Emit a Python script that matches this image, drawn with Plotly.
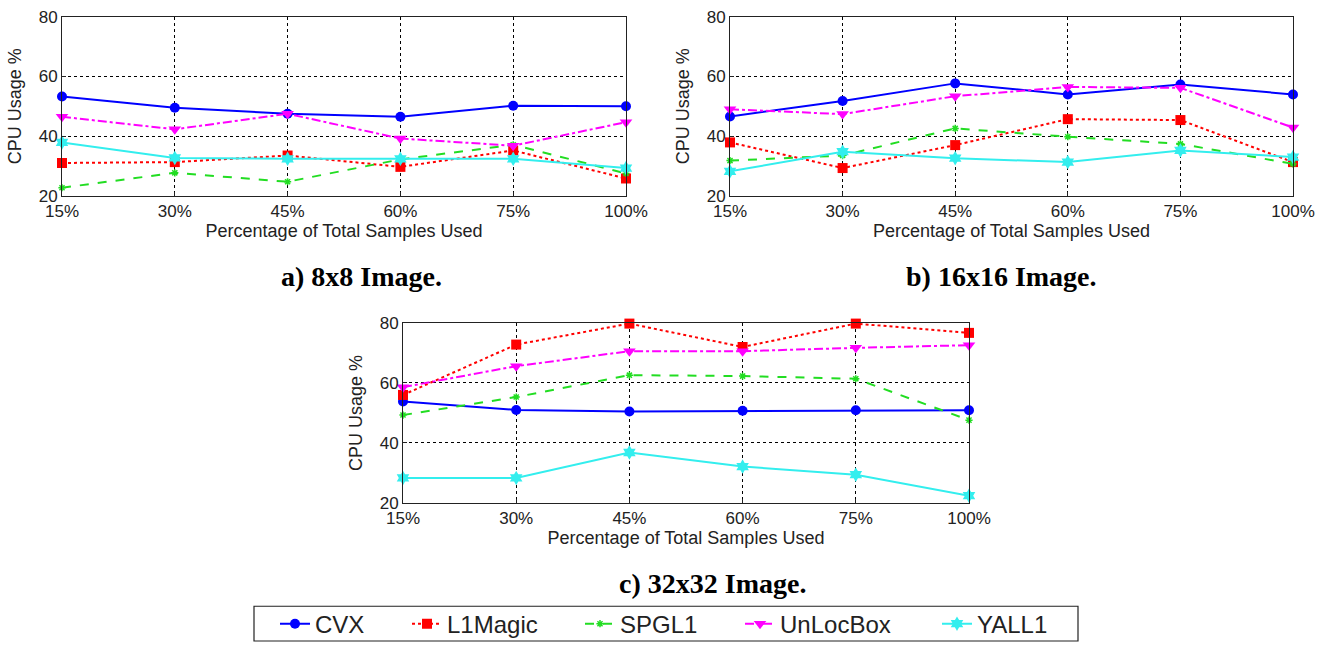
import plotly.graph_objects as go

x_labels = ["15%", "30%", "45%", "60%", "75%", "100%"]
x_pos = [0, 1, 2, 3, 4, 5]
series_names = ["CVX", "L1Magic", "SPGL1", "UnLocBox", "YALL1"]

# a) 8x8 image
a_cvx = [53.3, 49.5, 47.5, 46.5, 50.2, 50.0]
a_l1m = [31.0, 31.3, 33.5, 29.7, 35.2, 25.8]
a_spgl1 = [22.7, 27.7, 24.7, 32.2, 37.1, 27.5]
a_unloc = [46.5, 42.3, 47.5, 39.2, 36.8, 44.7]
a_yall1 = [37.9, 32.7, 32.4, 32.4, 32.4, 29.3]

# b) 16x16 image
b_cvx = [46.6, 51.8, 57.7, 54.0, 57.3, 54.0]
b_l1m = [37.9, 29.3, 37.0, 45.7, 45.4, 31.3]
b_spgl1 = [31.8, 33.5, 42.6, 39.8, 37.4, 30.7]
b_unloc = [49.0, 47.4, 53.4, 56.5, 56.2, 42.9]
b_yall1 = [28.2, 34.8, 32.6, 31.3, 35.2, 33.0]

# c) 32x32 image
c_cvx = [53.8, 51.0, 50.5, 50.7, 50.9, 50.9]
c_l1m = [56.0, 72.8, 79.8, 72.0, 79.8, 76.7]
c_spgl1 = [49.3, 55.3, 62.6, 62.3, 61.4, 47.6]
c_unloc = [58.6, 65.6, 70.6, 70.6, 71.7, 72.6]
c_yall1 = [28.3, 28.3, 36.8, 32.1, 29.4, 22.4]

y_ticks = [20, 40, 60, 80]
captions = ["a) 8x8 Image.", "b) 16x16 Image.", "c) 32x32 Image."]

styles = {
    "CVX": dict(color="#0000ff", dash="solid", symbol="circle", size=10),
    "L1Magic": dict(color="#ff0000", dash="dot", symbol="square", size=10),
    "SPGL1": dict(color="#22dd22", dash="dash", symbol="asterisk-open", size=6),
    "UnLocBox": dict(color="#ff00ff", dash="dashdot", symbol="triangle-down", size=11),
    "YALL1": dict(color="#33eeee", dash="solid", symbol="hexagram", size=11),
}

W, H = 1329, 647
def px_x(v):
    return v / W
def px_y(v):
    return 1 - v / H

panels = [
    ([a_cvx, a_l1m, a_spgl1, a_unloc, a_yall1], "x", "y"),
    ([b_cvx, b_l1m, b_spgl1, b_unloc, b_yall1], "x2", "y2"),
    ([c_cvx, c_l1m, c_spgl1, c_unloc, c_yall1], "x3", "y3"),
]
legend_ids = ["legend", "legend2", "legend3", "legend4", "legend5"]

fig = go.Figure()
for pi, (data, xa, ya) in enumerate(panels):
    for si, (name, vals) in enumerate(zip(series_names, data)):
        s = styles[name]
        fig.add_trace(go.Scatter(
            x=x_pos, y=vals, xaxis=xa, yaxis=ya, name=name,
            mode="lines+markers", cliponaxis=False,
            showlegend=(pi == 0), legend=legend_ids[si],
            line=dict(color=s["color"], dash=s["dash"], width=2),
            marker=dict(symbol=s["symbol"], size=s["size"], color=s["color"],
                        line=dict(color=s["color"], width=1.5 if name == "SPGL1" else 0)),
        ))

domains = [
    ([px_x(62), px_x(626)], [px_y(197), px_y(17)]),
    ([px_x(730), px_x(1293)], [px_y(197), px_y(17)]),
    ([px_x(403), px_x(969)], [px_y(506), px_y(325)]),
]

tick_font = dict(family="Liberation Sans, Arial, sans-serif", size=17, color="#222")
title_font = dict(family="Liberation Sans, Arial, sans-serif", size=18, color="#222")
layout_axes = {}
for i, (xdom, ydom) in enumerate(domains):
    sfx = "" if i == 0 else str(i + 1)
    layout_axes["xaxis" + sfx] = dict(
        domain=xdom, anchor="y" + sfx, range=[0, 5], automargin=False,
        tickvals=x_pos, ticktext=x_labels, tickfont=tick_font,
        showline=True, linecolor="#222", linewidth=1, mirror=True,
        showgrid=True, gridcolor="black", griddash="3px,3px", gridwidth=1,
        ticks="inside", ticklen=4, tickcolor="#222", zeroline=False,
        title=dict(text="Percentage of Total Samples Used", font=title_font, standoff=2),
    )
    layout_axes["yaxis" + sfx] = dict(
        domain=ydom, anchor="x" + sfx, range=[20, 80], automargin=False,
        tickvals=y_ticks, tickfont=tick_font,
        showline=True, linecolor="#222", linewidth=1, mirror=True,
        showgrid=True, gridcolor="black", griddash="3px,3px", gridwidth=1,
        ticks="inside", ticklen=4, tickcolor="#222", zeroline=False,
        title=dict(text="CPU Usage %", font=title_font, standoff=12),
    )

cap_pos = [(361, 278), (1001, 278), (712, 587)]
annotations = []
for text, (cx, cy) in zip(captions, cap_pos):
    annotations.append(dict(
        text="<b>" + text + "</b>", x=px_x(cx), y=px_y(cy), xref="paper", yref="paper",
        showarrow=False, xanchor="center", yanchor="middle",
        font=dict(family="Liberation Serif, Times New Roman, serif", size=28, color="black"),
    ))

# legend box and per-entry legends (marker centres)
legend_marker_x = [295, 427, 600, 760, 957]
legend_font = dict(family="Liberation Sans, Arial, sans-serif", size=24, color="#222")
legends = {}
for lid, mx in zip(legend_ids, legend_marker_x):
    legends[lid] = dict(
        orientation="h", x=px_x(mx - 20), y=px_y(628), xanchor="left", yanchor="middle",
        bgcolor="rgba(0,0,0,0)", borderwidth=0, font=legend_font,
        itemwidth=30, tracegroupgap=0,
    )

shapes = [dict(type="rect", xref="paper", yref="paper",
               x0=px_x(254), x1=px_x(1078), y0=px_y(645), y1=px_y(610),
               line=dict(color="#222", width=1.2), fillcolor="rgba(0,0,0,0)")]

fig.update_layout(
    width=W, height=H, margin=dict(l=0, r=0, t=0, b=0),
    plot_bgcolor="white", paper_bgcolor="white",
    annotations=annotations, shapes=shapes,
    **legends,
    **layout_axes,
)

fig.write_html("out.html", config={"displayModeBar": False},
               post_script="document.body.style.margin='0';document.body.style.overflow='hidden';")
